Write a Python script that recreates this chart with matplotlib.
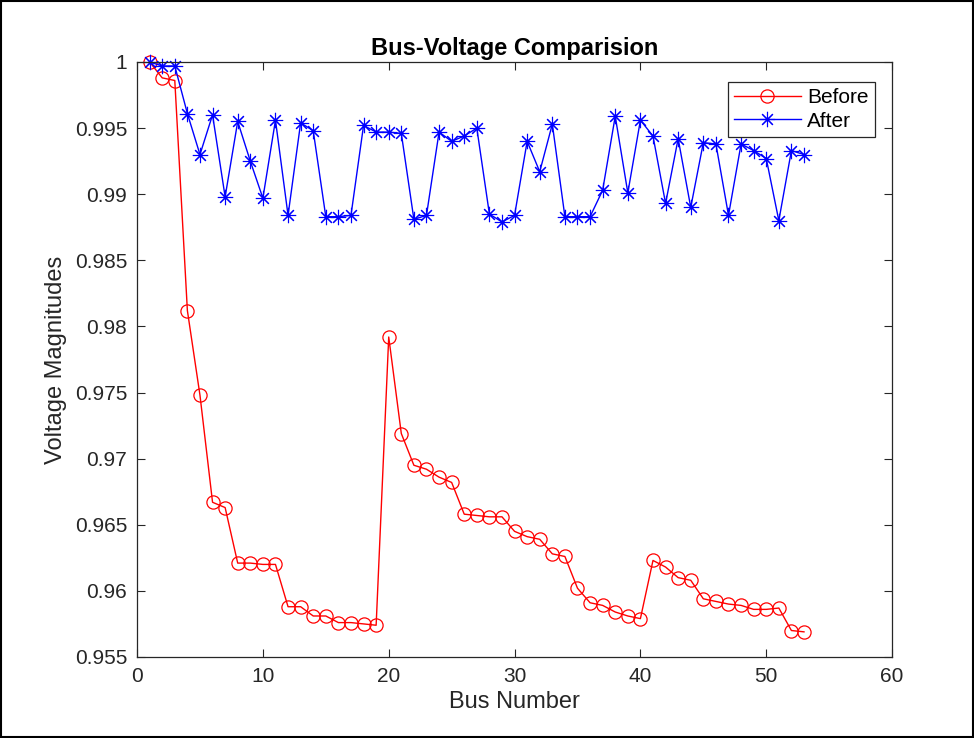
import numpy as np
import matplotlib
matplotlib.use("Agg")
import matplotlib.pyplot as plt
from matplotlib.patches import Rectangle

plt.rcParams['font.family'] = ['Liberation Sans', 'DejaVu Sans']

# Bus numbers 1..53
bus = list(range(1, 54))

# Voltage magnitudes before compensation
before = [1.0000, 0.9988, 0.9986, 0.9812, 0.9748, 0.9667, 0.9663, 0.9621, 0.9621, 0.9620,
          0.9620, 0.9588, 0.9588, 0.9581, 0.9581, 0.9576, 0.9576, 0.9575, 0.9574, 0.9792,
          0.9719, 0.9695, 0.9692, 0.9686, 0.9682, 0.9658, 0.9657, 0.9656, 0.9656, 0.9645,
          0.9641, 0.9639, 0.9628, 0.9626, 0.9602, 0.9591, 0.9589, 0.9584, 0.9581, 0.9579,
          0.9623, 0.9618, 0.9610, 0.9608, 0.9594, 0.9592, 0.9590, 0.9589, 0.9586, 0.9586,
          0.9587, 0.9570, 0.9569]

# Voltage magnitudes after compensation
after = [1.0000, 0.9997, 0.9997, 0.9961, 0.9930, 0.9960, 0.9898, 0.9955, 0.9925, 0.9897,
         0.9956, 0.9884, 0.9954, 0.9948, 0.9883, 0.9883, 0.9884, 0.9952, 0.9947, 0.9947,
         0.9946, 0.9881, 0.9884, 0.9947, 0.9940, 0.9944, 0.9950, 0.9885, 0.9879, 0.9884,
         0.9940, 0.9917, 0.9953, 0.9883, 0.9883, 0.9883, 0.9903, 0.9959, 0.9901, 0.9956,
         0.9944, 0.9893, 0.9942, 0.9890, 0.9939, 0.9938, 0.9884, 0.9938, 0.9933, 0.9927,
         0.9880, 0.9933, 0.9930]

xticks = [0, 10, 20, 30, 40, 50, 60]
yticks = [0.955, 0.96, 0.965, 0.97, 0.975, 0.98, 0.985, 0.99, 0.995, 1.0]
ytick_labels = ['0.955', '0.96', '0.965', '0.97', '0.975', '0.98', '0.985', '0.99', '0.995', '1']

fig = plt.figure(figsize=(9.74, 7.38), dpi=100)
ax = fig.add_axes([0.1407, 0.1098, 0.7752, 0.8062])

ax.plot(bus, before, color='red', linewidth=1.0, marker='o', markersize=9.5,
        markerfacecolor='none', markeredgecolor='red', markeredgewidth=0.9,
        label='Before', clip_on=False)
ax.plot(bus, after, color='blue', linewidth=1.0, marker=(8, 2, 0), markersize=11,
        markeredgecolor='blue', markeredgewidth=0.8, label='After', clip_on=False)

ax.set_xlim(0, 60)
ax.set_ylim(0.955, 1.0)
ax.set_xticks(xticks)
ax.set_yticks(yticks)
ax.set_yticklabels(ytick_labels)

grey = '#262626'
ax.tick_params(direction='in', top=True, right=True, length=6, width=0.8,
               labelsize=15, colors=grey, pad=7)
for s in ax.spines.values():
    s.set_color(grey)
    s.set_linewidth(0.9)

ax.set_title('Bus-Voltage Comparision', fontsize=17, fontweight='bold', pad=5)
ax.set_xlabel('Bus Number', fontsize=17, color=grey, labelpad=4)
ax.set_ylabel('Voltage Magnitudes', fontsize=17, color=grey, labelpad=6)

leg = ax.legend(loc='upper right', bbox_to_anchor=(0.977, 0.966), fontsize=15,
                handlelength=3.2, fancybox=False, framealpha=1, edgecolor=grey,
                borderpad=0.3, labelspacing=0.2, handletextpad=0.3, borderaxespad=0)
leg.get_frame().set_linewidth(0.9)

# outer border of the picture
fig.patches.append(Rectangle((0.001, 0.001), 0.998, 0.997, transform=fig.transFigure,
                             fill=False, edgecolor='black', linewidth=1.5))

fig.savefig('out.png', dpi=100)
